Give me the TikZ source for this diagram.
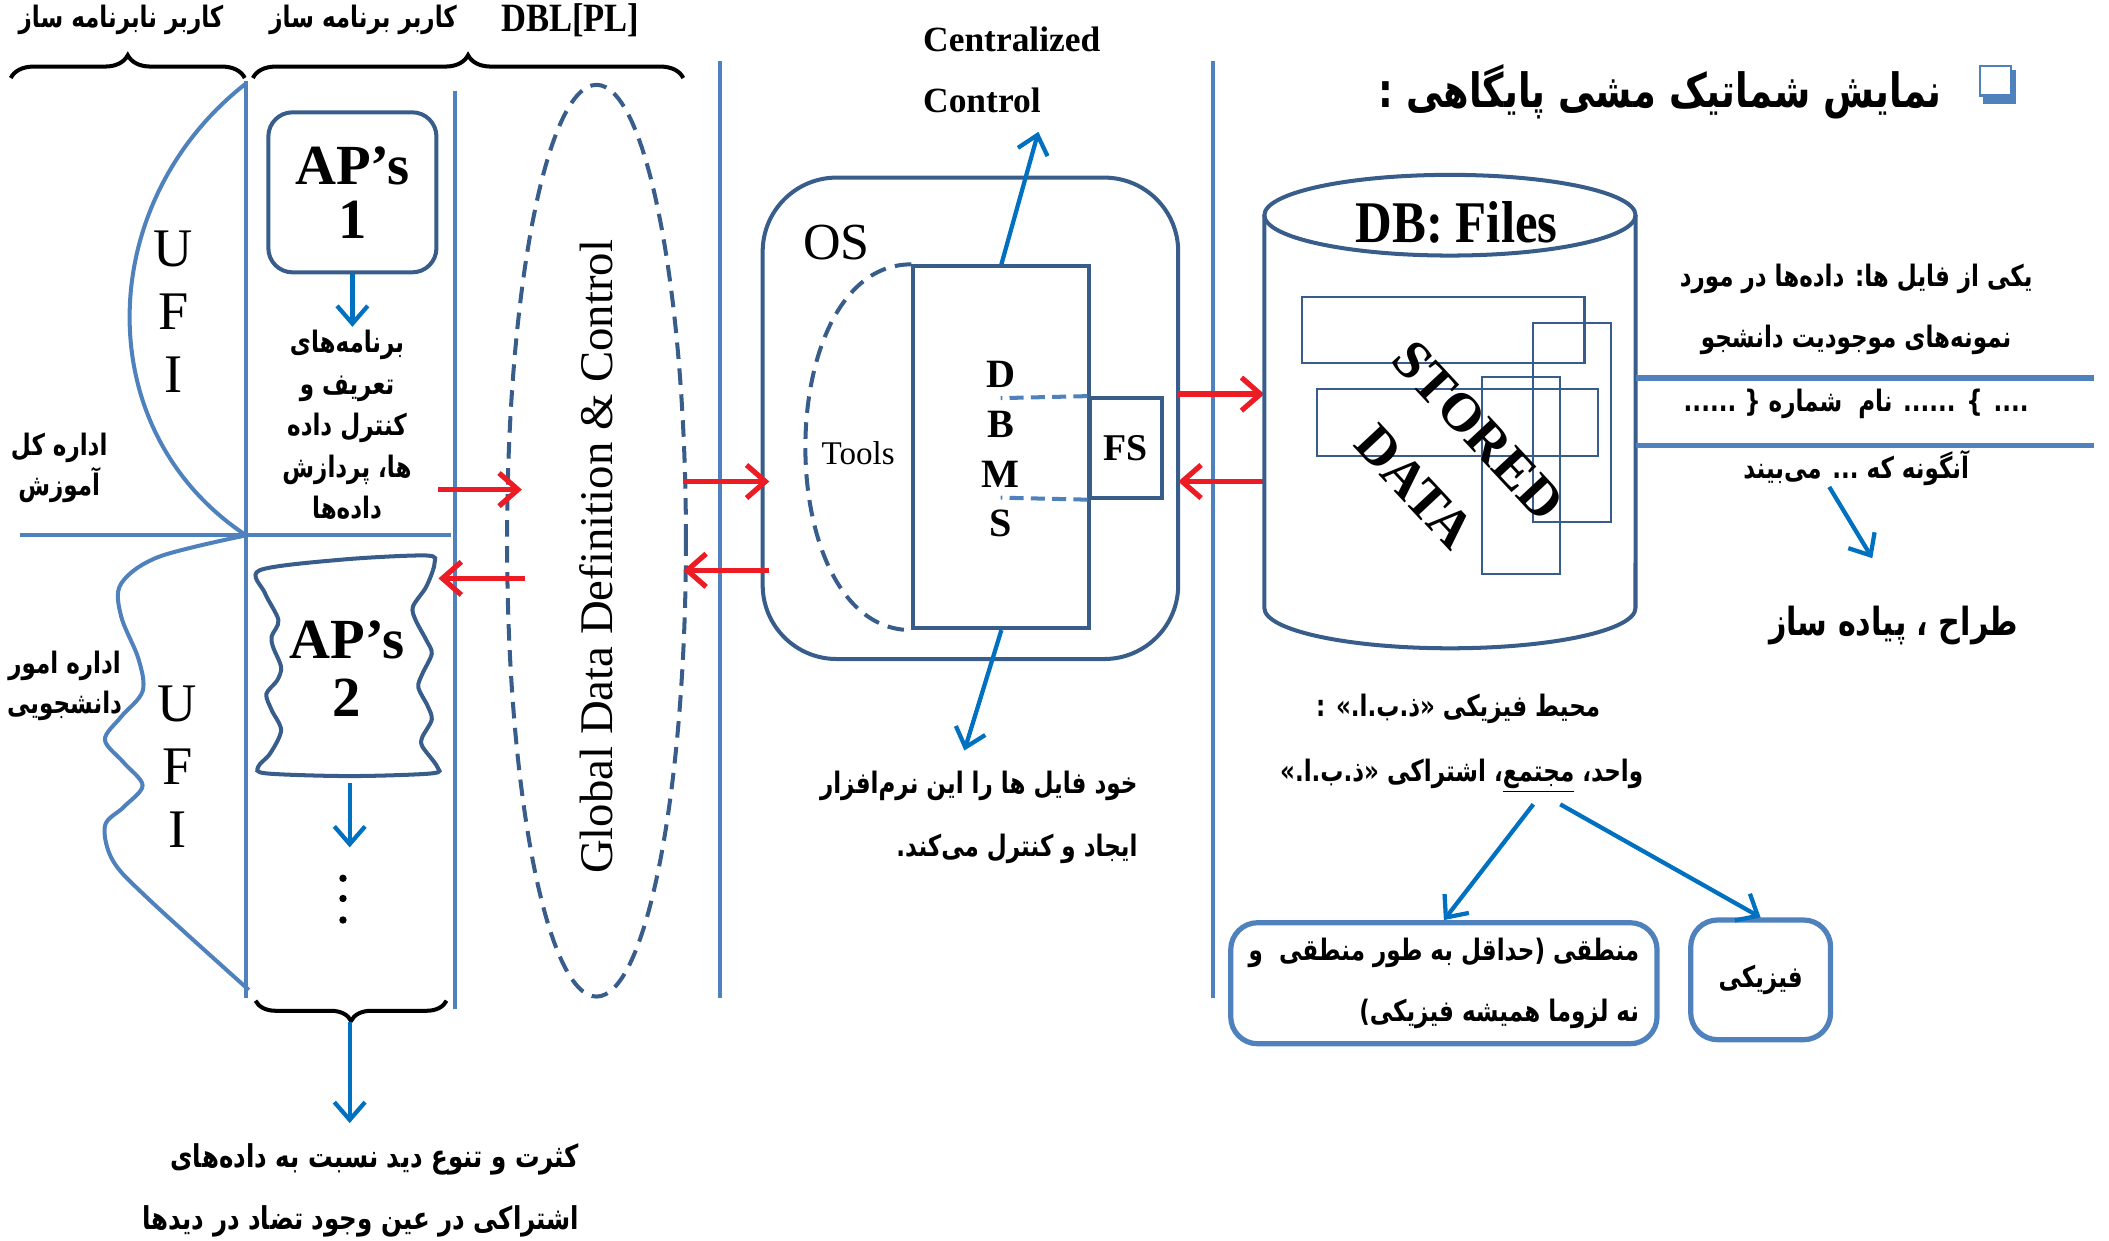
\documentclass[tikz,border=0pt]{standalone}
\usepackage{fontspec}
\usetikzlibrary{arrows.meta,decorations.pathreplacing,shapes.geometric}
\setmainfont{Liberation Serif}
\newfontfamily\fafont[Script=Arabic,FakeStretch=0.78]{DejaVu Sans}
\newfontfamily\narrowserif[FakeStretch=0.86]{Liberation Serif}
\TeXXeTstate=1
\newcommand{\fatext}[1]{{\fafont\bfseries\beginR #1\endR}}
\newcommand{\tightlines}{\lineskiplimit=-10pt\relax}

\definecolor{lineblue}{RGB}{79,129,189}
\definecolor{darkblue}{RGB}{56,93,138}
\definecolor{arrowblue}{RGB}{0,112,192}
\definecolor{arrowred}{RGB}{237,28,36}

\def\farsisize{12.5}

\begin{document}
\begin{tikzpicture}[x=0.02cm,y=-0.02cm,
  sepline/.style={draw=lineblue,line width=1.7pt},
  darkframe/.style={draw=darkblue,line width=1.7pt},
  thinframe/.style={draw=darkblue,line width=0.9pt},
  dashframe/.style={darkframe,dash pattern=on 7pt off 4pt},
  redarrow/.style={draw=arrowred,line width=2.2pt,-{Straight Barb[length=8pt,width=14pt]}},
  bluearrow/.style={draw=arrowblue,line width=1.8pt,-{Straight Barb[length=7.5pt,width=13pt]}},
  curly/.style={draw=black,line width=1.7pt,decorate,decoration={brace,amplitude=#1}},
  fa/.style={align=center,inner sep=0pt,font=\fontsize{\farsisize}{#1}\selectfont\tightlines},
  fa/.default=17.5,
  ufi/.style={align=center,inner sep=0pt,font=\fontsize{23}{26.6}\selectfont},
  apbox/.style={darkframe,rounded corners=0.36cm,align=center,font=\bfseries\fontsize{24}{23}\selectfont},
  roundbox/.style={draw=lineblue,line width=2.2pt,rounded corners=0.4cm,align=right}
  ]
  \useasboundingbox (0,0) rectangle (1568,922);

  % users and braces on top
  \node[fa] (nonprog) at (90,15) {\fatext{کاربر نابرنامه ساز}};
  \node[fa] (progr) at (270,15) {\fatext{کاربر برنامه ساز}};
  \node[font=\narrowserif\bfseries\fontsize{17}{17}\selectfont] (dbl) at (424,15) {DBL[PL]};
  \draw[curly=0.34cm] (8,58) -- (182,58);
  \draw[curly=0.34cm] (188,58) -- (508,58);

  % separators
  \draw[sepline] (183,60) -- (183,742);
  \draw[sepline] (338,68) -- (338,750);
  \draw[sepline] (535,45) -- (535,742);
  \draw[sepline] (902,45) -- (902,742);
  \draw[sepline] (15,398) -- (335,398);

  % user interfaces
  \draw[sepline] (183,62) .. controls (70,150) and (65,320) .. (183,398);
  \draw[sepline] plot[smooth,tension=0.55] coordinates {(183,398) (118,414) (90,434) (90,458)
    (103,490) (106,514) (90,533) (78,550) (92,567) (106,584) (92,600) (78,614) (84,640)
    (110,668) (185,736)};
  \node[ufi] (ufitop) at (129,232) {U\\F\\I};
  \node[ufi] (ufibot) at (132,570) {U\\F\\I};
  \node[fa=17] (edu) at (44,348) {\fatext{اداره کل}\\\fatext{آموزش}};
  \node[fa=17] (stu) at (48,510) {\fatext{اداره امور}\\\fatext{دانشجویی}};

  % application programs
  \node[apbox,minimum width=2.5cm,minimum height=2.38cm] (ap1) at (262,143) {AP’s\\1};
  \coordinate (ap1end) at (262,243);
  \draw[bluearrow] (ap1) -- (ap1end);
  \node[fa=17.6] (defs) at (258,316) {\fatext{برنامه‌های}\\\fatext{تعریف و}\\\fatext{کنترل داده}\\\fatext{ها، پردازش}\\\fatext{داده‌ها}};

  \draw[darkframe] plot[smooth cycle,tension=0.5] coordinates {(193,424) (255,416) (317,413)
    (323,419) (317,436) (307,451) (309,461) (317,476) (321,486) (314,501) (311,511) (318,525)
    (321,535) (314,548) (314,555) (325,570) (321,575) (260,577) (198,575) (192,570) (201,560)
    (209,543) (202,528) (198,516) (206,506) (209,496) (203,481) (202,473) (207,461) (197,441)};
  \node[align=center,font=\bfseries\fontsize{24}{24.4}\selectfont] (ap2) at (258,497) {AP’s\\2};
  \coordinate (ap2out) at (260,582);
  \coordinate (ap2end) at (260,630);
  \draw[bluearrow] (ap2out) -- (ap2end);
  \foreach \yy in {653,668,684}
    \fill (255,\yy) circle[radius=0.055cm];

  \draw[curly=0.3cm] (332,744) -- (190,744);
  \coordinate (viewsout) at (260,760);
  \coordinate (viewsend) at (260,835);
  \draw[bluearrow] (viewsout) -- (viewsend);
  \node[fa=26,align=right,anchor=east,font=\fontsize{13.3}{26}\selectfont] (views) at (431,885)
    {\fatext{کثرت و تنوع دید نسبت به داده‌های}\\\fatext{اشتراکی در عین وجود تضاد در دیدها}};

  % global data definition
  \node[dashframe,ellipse,minimum width=2.66cm,minimum height=13.56cm,inner sep=0pt] (gddc) at (443.5,402) {};
  \node[rotate=90,font=\fontsize{19.8}{19.8}\selectfont] (gddtext) at (443,414) {Global Data Definition \& Control};

  % operating system
  \node[darkframe,rounded corners=1.1cm,minimum width=6.18cm,minimum height=7.16cm] (os) at (721.5,311) {};
  \node[font=\fontsize{22}{22}\selectfont] (oslabel) at (622,180) {OS};
  \node[darkframe,minimum width=2.62cm,minimum height=5.38cm] (dbms) at (744.5,332.5) {};
  \node[align=center,font=\bfseries\fontsize{17}{21}\selectfont] (dbmstext) at (744,334) {D\\B\\M\\S};
  \node[darkframe,minimum width=1.08cm,minimum height=1.48cm,font=\bfseries\fontsize{16}{16}\selectfont] (fs) at (837,333) {FS};
  \coordinate (fstop) at (744,296);
  \coordinate (fsbot) at (744,370);
  \draw[sepline,dash pattern=on 6pt off 3pt] (fs.north west) -- (fstop);
  \draw[sepline,dash pattern=on 6pt off 3pt] (fs.south west) -- (fsbot);
  \draw[dashframe] (dbms.north west) .. controls +(-105,0) and +(-105,0) .. (dbms.south west);
  \node[font=\fontsize{14}{14}\selectfont] (tools) at (638,337) {Tools};

  \coordinate (ccend) at (772,98);
  \draw[bluearrow] (dbms.north) -- (ccend);
  \node[align=left,anchor=west,inner sep=0pt,font=\bfseries\fontsize{15}{25.5}\selectfont] (cc) at (686,52) {Centralized\\Control};
  \coordinate (swend) at (717,558);
  \draw[bluearrow] (dbms.south) -- (swend);
  \node[fa=26.7,align=right,anchor=east] (sw) at (846,608)
    {\fatext{خود فایل ها را این نرم‌افزار}\\\fatext{ایجاد و کنترل می‌کند.}};

  % red data flows
  \coordinate (apout)   at (326,364);
  \coordinate (gddin)   at (388,364);
  \coordinate (gddout)  at (390,430);
  \coordinate (apin)    at (326,430);
  \coordinate (gddr)    at (508,358);
  \coordinate (osin)    at (572,358);
  \coordinate (osout)   at (572,424);
  \coordinate (gddback) at (508,424);
  \coordinate (fsout)   at (876,293);
  \coordinate (dbin)    at (940,293);
  \coordinate (dbout)   at (940,358);
  \coordinate (fsin)    at (876,358);
  \draw[redarrow] (apout) -- (gddin);
  \draw[redarrow] (gddout) -- (apin);
  \draw[redarrow] (gddr) -- (osin);
  \draw[redarrow] (osout) -- (gddback);
  \draw[redarrow] (fsout) -- (dbin);
  \draw[redarrow] (dbout) -- (fsin);

  % title
  \fill[lineblue] (1474,52) rectangle (1499,77);
  \draw[lineblue,line width=1pt,fill=white] (1472,49) rectangle (1495,71);
  \node[fa,anchor=east,font=\fontsize{20}{20}\selectfont] (title) at (1444,68) {\fatext{نمایش شماتیک مشی پایگاهی :}};

  % stored database
  \draw[darkframe] (940,160) -- (940,452) arc[start angle=180,end angle=360,x radius=2.76cm,y radius=0.6cm] -- (1216,160);
  \draw[darkframe] (1078,160) ellipse[x radius=2.76cm,y radius=0.6cm];
  \node[font=\narrowserif\bfseries\fontsize{25}{25}\selectfont] (dbfiles) at (1083,165) {DB: Files};
  \draw[thinframe] (968,221) rectangle (1178,270);
  \draw[thinframe] (979,289) rectangle (1188,339);
  \draw[thinframe] (1140,240) rectangle (1198,388);
  \draw[thinframe] (1102,280) rectangle (1160,427);
  \node[rotate=-47,inner sep=0pt,font=\bfseries\fontsize{23}{23}\selectfont] (stored) at (1099,320) {STORED};
  \node[rotate=-47,inner sep=0pt,font=\bfseries\fontsize{23}{23}\selectfont] (data) at (1052,362) {DATA};

  % one of the files
  \node[fa=25.5] (filetext) at (1380,230) {\fatext{یکی از فایل ها: داده‌ها در مورد}\\\fatext{نمونه‌های موجودیت دانشجو}};
  \coordinate (recl) at (1216,281);
  \coordinate (recr) at (1557,281);
  \coordinate (recbl) at (1216,331);
  \coordinate (recbr) at (1557,331);
  \draw[sepline,line width=2.2pt] (recl) -- (recr);
  \draw[sepline,line width=2.2pt] (recbl) -- (recbr);
  \node[fa] (record) at (1380,300) {\fatext{.... \} ...... نام\ \ شماره \{ ......}};
  \node[fa] (seen) at (1380,348) {\fatext{آنگونه که ... می‌بیند}};
  \coordinate (seenout) at (1360,362);
  \coordinate (seenend) at (1392,415);
  \draw[bluearrow] (seenout) -- (seenend);
  \node[fa,font=\fontsize{16.4}{16.4}\selectfont] (designer) at (1408,465) {\fatext{طراح ، پیاده ساز}};

  % physical environment
  \node[fa,anchor=east] (env) at (1190,527) {\fatext{محیط فیزیکی «ذ.ب.ا.» :}};
  \node[fa,anchor=east] (unit) at (1222,577) {\fatext{واحد، \underline{مجتمع}، اشتراکی «ذ.ب.ا.»}};
  \node[roundbox,minimum width=6.34cm,minimum height=1.8cm,font=\fontsize{\farsisize}{26}\selectfont] (logic) at (1073.5,731)
    {\fatext{منطقی (حداقل به طور منطقی\ \ و}\\\fatext{نه لزوما همیشه فیزیکی)}};
  \node[roundbox,minimum width=2.08cm,minimum height=1.78cm,font=\fontsize{\farsisize}{13}\selectfont] (phys) at (1309,728.5) {\fatext{فیزیکی}};
  \coordinate (unitl) at (1140,598);
  \coordinate (unitr) at (1160,598);
  \draw[bluearrow] (unitl) -- (logic.north);
  \draw[bluearrow] (unitr) -- (phys.north);
\end{tikzpicture}
\end{document}
